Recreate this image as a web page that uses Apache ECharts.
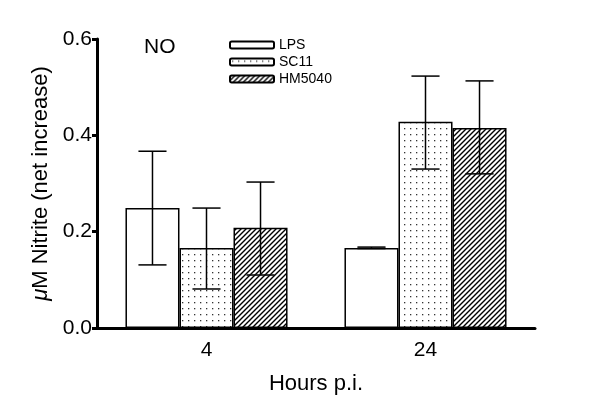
<!DOCTYPE html>
<html><head><meta charset="utf-8">
<script src="https://cdn.jsdelivr.net/npm/echarts@6/dist/echarts.min.js"></script>
<style>html,body{margin:0;padding:0;background:#fff}#c{width:600px;height:419px}</style>
</head><body><div id="c"></div>
<script>
const categories = ['4', '24'];
const seriesNames = ['LPS', 'SC11', 'HM5040'];
const lpsMean = [0.249, 0.166];
const lpsLow = [0.131, 0.165];
const lpsHigh = [0.367, 0.168];
const sc11Mean = [0.166, 0.428];
const sc11Low = [0.081, 0.330];
const sc11High = [0.249, 0.523];
const hmMean = [0.208, 0.415];
const hmLow = [0.110, 0.320];
const hmHigh = [0.303, 0.513];
const yTicks = [0, 0.2, 0.4, 0.6];

function dotPattern() {
  const c = document.createElement('canvas'); c.width = 6; c.height = 6;
  const g = c.getContext('2d');
  g.fillStyle = '#fff'; g.fillRect(0, 0, 6, 6);
  g.fillStyle = '#333'; g.fillRect(2, 2, 1.3, 1.3);
  return {image: c, repeat: 'repeat'};
}
function hatchPattern() {
  const s = 5;
  const c = document.createElement('canvas'); c.width = s; c.height = s;
  const g = c.getContext('2d');
  g.fillStyle = '#fff'; g.fillRect(0, 0, s, s);
  g.strokeStyle = '#000'; g.lineWidth = 1.4;
  g.beginPath();
  g.moveTo(-1, s + 1); g.lineTo(s + 1, -1);
  g.moveTo(-1, 1); g.lineTo(1, -1);
  g.moveTo(s - 1, s + 1); g.lineTo(s + 1, s - 1);
  g.stroke();
  return {image: c, repeat: 'repeat'};
}
const fills = ['#ffffff', dotPattern(), hatchPattern()];
const means = [lpsMean, sc11Mean, hmMean];
const lows = [lpsLow, sc11Low, hmLow];
const highs = [lpsHigh, sc11High, hmHigh];
const GAP = 0.26;

const series = [];
seriesNames.forEach((n, k) => {
  series.push({
    name: n, type: 'bar', data: means[k], barGap: '0%', barCategoryGap: (GAP * 100) + '%',
    itemStyle: {color: fills[k], borderColor: '#000', borderWidth: 1.5},
    emphasis: {disabled: true}
  });
});
seriesNames.forEach((n, k) => {
  series.push({
    name: n + ' err', type: 'custom', z: 10,
    data: categories.map((c, i) => [i, lows[k][i], highs[k][i]]),
    renderItem: function (params, api) {
      const ci = api.value(0), lo = api.value(1), hi = api.value(2);
      const band = api.size([1, 0])[0];
      const bw = band * (1 - GAP) / 3;
      const x = api.coord([ci, 0])[0] + (k - 1) * bw;
      const yH = api.coord([ci, hi])[1], yL = api.coord([ci, lo])[1];
      const cw = bw * 0.26;
      const st = {stroke: '#000', lineWidth: 1.5};
      return {type: 'group', children: [
        {type: 'line', shape: {x1: x, y1: yH, x2: x, y2: yL}, style: st},
        {type: 'line', shape: {x1: x - cw, y1: yH, x2: x + cw, y2: yH}, style: st},
        {type: 'line', shape: {x1: x - cw, y1: yL, x2: x + cw, y2: yL}, style: st}
      ]};
    }
  });
});

const chart = echarts.init(document.getElementById('c'), null, {renderer: 'canvas'});
chart.setOption({
  animation: false,
  backgroundColor: '#fff',
  textStyle: {fontFamily: 'Liberation Sans, Arial, sans-serif'},
  title: {text: 'NO', left: 139, top: 32, textStyle: {fontSize: 21, fontWeight: 'normal', color: '#000', fontFamily: 'Liberation Sans'}},
  legend: {
    data: seriesNames, orient: 'vertical', left: 224, top: 33,
    itemWidth: 44, itemHeight: 7, itemGap: 3, selectedMode: false,
    textStyle: {fontSize: 14, color: '#000', fontFamily: 'Liberation Sans'}
  },
  grid: {left: 97, right: 65, top: 39, bottom: 91},
  xAxis: {
    type: 'category', data: categories,
    name: 'Hours p.i.', nameLocation: 'middle', nameGap: 45,
    nameTextStyle: {fontSize: 22, color: '#000'},
    axisLine: {lineStyle: {color: '#000', width: 3}},
    axisTick: {alignWithLabel: true, length: 6, lineStyle: {width: 3, color: '#000'}},
    axisLabel: {fontSize: 21, color: '#000', margin: 12}
  },
  yAxis: {
    type: 'value', min: 0, max: 0.6, interval: 0.2,
    name: '{i|μ}M Nitrite (net increase)', nameLocation: 'middle', nameGap: 41, nameRotate: 90,
    nameTextStyle: {fontSize: 22, color: '#000', rich: {i: {fontSize: 22, fontStyle: 'italic', color: '#000'}}},
    axisLine: {show: true, lineStyle: {color: '#000', width: 3}},
    axisTick: {show: true, length: 5, lineStyle: {width: 3, color: '#000'}},
    axisLabel: {fontSize: 21, color: '#000', margin: 5, formatter: v => yTicks.includes(+v.toFixed(1)) ? v.toFixed(1) : ''},
    splitLine: {show: false}
  },
  series: series
});
</script></body></html>
